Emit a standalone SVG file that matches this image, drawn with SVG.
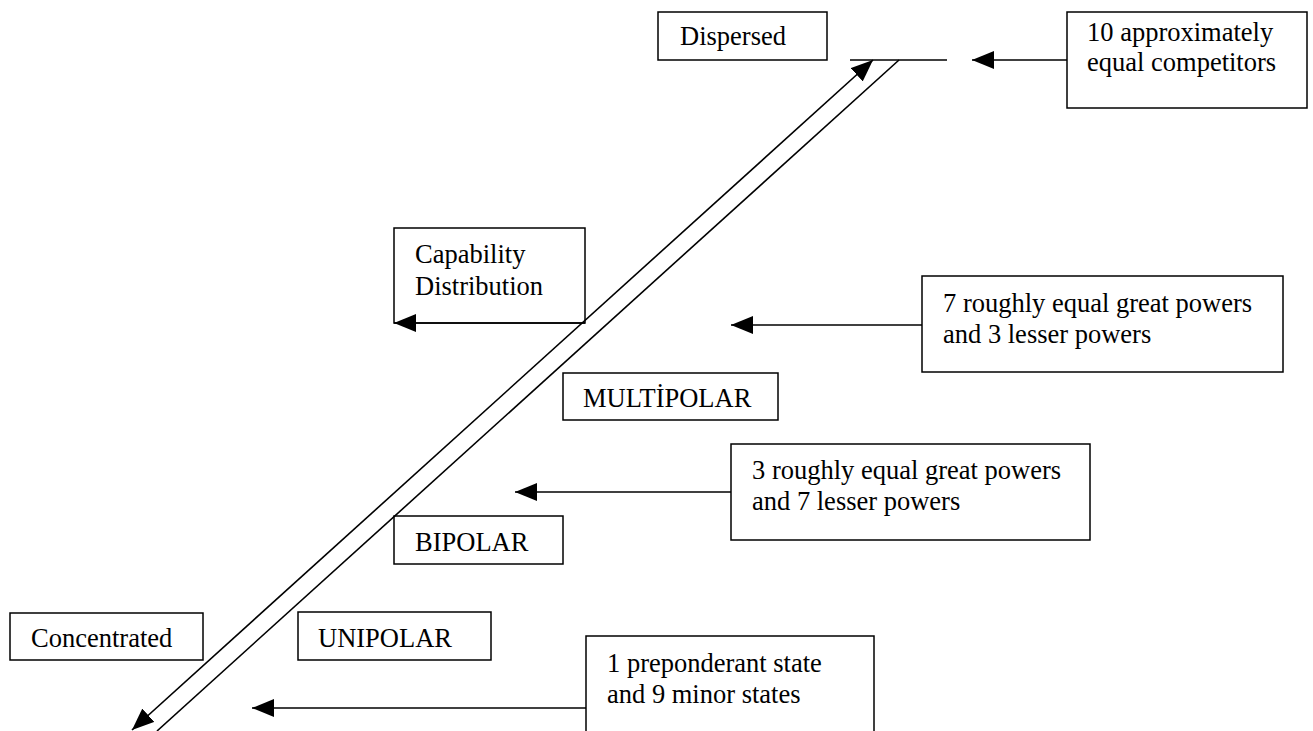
<svg xmlns="http://www.w3.org/2000/svg" width="1313" height="731" viewBox="0 0 1313 731">
<style>
.box{fill:#fff;stroke:#000;stroke-width:1.5}
.t{font-family:"Liberation Serif","Times New Roman",serif;font-size:26.5px;fill:#000}
.c{stroke:#000;stroke-width:1.6;fill:none}
</style>
<defs>
<marker id="ah" viewBox="0 0 22 18" refX="22" refY="9" markerWidth="22" markerHeight="18" markerUnits="userSpaceOnUse" orient="auto-start-reverse">
<path d="M0,0 L22,9 L0,18 z" fill="#000"/>
</marker>
</defs>
<rect width="1313" height="731" fill="#fff"/>
<g id="dispersed"><rect class="box" x="658" y="12" width="169" height="48"/><text class="t" x="680" y="45">Dispersed</text></g>
<g id="ten"><rect class="box" x="1067" y="12" width="240" height="96"/><text class="t" x="1087" y="41">10 approximately</text><text class="t" x="1087" y="71">equal competitors</text></g>
<g id="capability"><rect class="box" x="394" y="228" width="191" height="95"/><text class="t" x="415" y="263">Capability</text><text class="t" x="415" y="295">Distribution</text></g>
<g id="seven"><rect class="box" x="922" y="276" width="361" height="96"/><text class="t" x="943" y="312">7 roughly equal great powers</text><text class="t" x="943" y="343">and 3 lesser powers</text></g>
<g id="multipolar"><rect class="box" x="563" y="373" width="215" height="47"/><text class="t" x="583" y="407">MULTİPOLAR</text></g>
<g id="three"><rect class="box" x="731" y="444" width="359" height="96"/><text class="t" x="752" y="479">3 roughly equal great powers</text><text class="t" x="752" y="510">and 7 lesser powers</text></g>
<g id="bipolar"><rect class="box" x="394" y="516" width="169" height="48"/><text class="t" x="415" y="551">BIPOLAR</text></g>
<g id="concentrated"><rect class="box" x="10" y="613" width="193" height="47"/><text class="t" x="31" y="647">Concentrated</text></g>
<g id="unipolar"><rect class="box" x="298" y="612" width="193" height="48"/><text class="t" x="318" y="647">UNIPOLAR</text></g>
<g id="one"><rect class="box" x="586" y="636" width="288" height="110"/><text class="t" x="607" y="672">1 preponderant state</text><text class="t" x="607" y="703">and 9 minor states</text></g>
<g id="connectors">
<line class="c" x1="850" y1="60" x2="947" y2="60"/>
<line class="c" x1="899" y1="60" x2="157" y2="731"/>
<line class="c" x1="132" y1="730" x2="873" y2="60" marker-start="url(#ah)" marker-end="url(#ah)"/>
<line class="c" x1="1067" y1="60" x2="972" y2="60" marker-end="url(#ah)"/>
<line class="c" x1="585" y1="323" x2="394" y2="323" marker-end="url(#ah)"/>
<line class="c" x1="922" y1="325" x2="731" y2="325" marker-end="url(#ah)"/>
<line class="c" x1="731" y1="492" x2="515" y2="492" marker-end="url(#ah)"/>
<line class="c" x1="586" y1="708" x2="252" y2="708" marker-end="url(#ah)"/>
</g>
</svg>
